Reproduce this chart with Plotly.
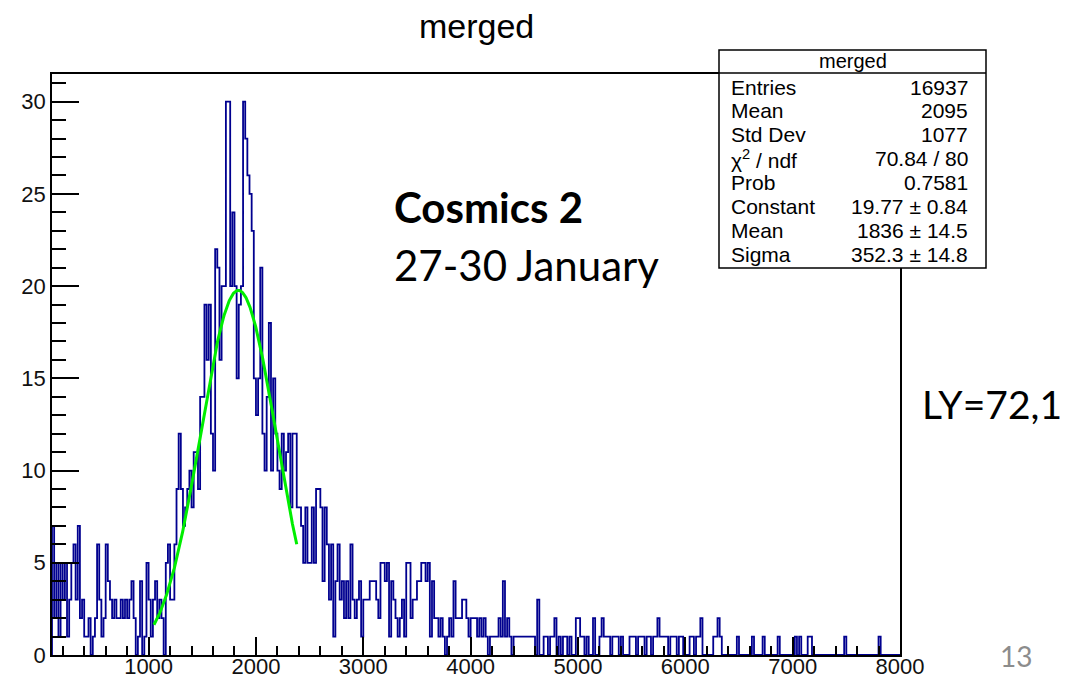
import numpy as np
import plotly.graph_objects as go

# ---------------- data ----------------
BIN_START = 100
BIN_WIDTH = 20

# 100 - 1100
counts_low = [
    7, 2, 5, 1, 5, 3, 5, 1, 3, 5,
    6, 3, 7, 2, 3, 1, 1, 2, 0, 1,
    2, 6, 3, 1, 2, 6, 4, 3, 2, 3,
    2, 2, 3, 2, 3, 2, 3, 4, 2, 0,
    1, 4, 0, 1, 5, 3, 1, 3, 4, 2,
]
# 1100 - 2500
counts_peak = [
    3, 2, 0, 5, 6, 3, 3, 6, 9, 12,
    9, 7, 8, 9, 10, 8, 11, 11, 9, 14,
    14, 19, 16, 19, 12, 10, 22, 21, 16, 20,
    20, 30, 30, 20, 24, 20, 15, 19, 20, 30,
    28, 26, 25, 23, 15, 13, 15, 21, 12, 10,
    14, 18, 10, 15, 12, 10, 9, 12, 10, 11,
    12, 8, 12, 12, 8, 8, 7, 5, 8, 5,
]
# 2500 - 4100
counts_shoulder = [
    5, 8, 5, 9, 9, 8, 4, 8, 6, 3,
    6, 1, 4, 6, 3, 4, 2, 4, 2, 6,
    3, 2, 3, 4, 1, 3, 3, 3, 4, 4,
    4, 3, 2, 5, 5, 4, 5, 1, 4, 3,
    2, 1, 2, 3, 1, 5, 5, 2, 3, 3,
    4, 4, 5, 5, 4, 5, 1, 4, 2, 2,
    1, 2, 1, 0, 1, 2, 1, 4, 2, 2,
    2, 3, 3, 2, 1, 2, 2, 2, 1, 2,
]
# 4100 - 8000
counts_tail = [
    1, 2, 1, 0, 1, 1, 1, 1, 2, 1,
    4, 1, 2, 1, 0, 1, 1, 1, 1, 1,
    1, 1, 1, 1, 1, 0, 3, 0, 0, 1,
    1, 0, 1, 1, 2, 0, 1, 0, 1, 1,
    0, 1, 0, 0, 2, 2, 1, 1, 0, 1,
    0, 0, 2, 0, 0, 1, 2, 1, 1, 1,
    0, 1, 1, 1, 0, 1, 0, 0, 0, 1,
    1, 1, 0, 1, 1, 1, 0, 1, 1, 0,
    1, 1, 2, 1, 1, 1, 1, 0, 1, 1,
    1, 0, 1, 1, 0, 0, 0, 1, 1, 0,
    1, 1, 2, 0, 0, 0, 0, 0, 1, 1,
    2, 1, 0, 0, 0, 0, 0, 0, 0, 1,
    0, 0, 0, 0, 0, 0, 1, 0, 0, 0,
    0, 1, 0, 0, 0, 0, 0, 0, 1, 0,
    0, 0, 0, 0, 0, 0, 1, 0, 1, 0,
    0, 0, 1, 1, 0, 0, 0, 0, 0, 0,
    0, 0, 0, 0, 0, 0, 0, 0, 0, 1,
    0, 0, 0, 0, 0, 0, 0, 0, 0, 0,
    0, 0, 0, 0, 0, 1, 0, 0, 0, 0,
    0, 0, 0, 0, 0,
]

# Gaussian fit parameters (from the stats box) and fit range
FIT_CONSTANT = 19.77
FIT_MEAN = 1836.0
FIT_SIGMA = 352.3
FIT_RANGE = (1050, 2380)

X_RANGE = [100, 8000]
Y_RANGE = [0, 31.5]

stats_title = "merged"
stats_labels = ["Entries", "Mean", "Std Dev", "χ<sup>2</sup> / ndf", "Prob",
                "Constant", "Mean", "Sigma"]
stats_values = ["16937", "2095", "1077", "70.84 / 80", "0.7581",
                "19.77 ± 0.84", "1836 ± 14.5", "352.3 ± 14.8"]

# ---------------- build ----------------
counts = counts_low + counts_peak + counts_shoulder + counts_tail
n = len(counts)
edges = [BIN_START + i * BIN_WIDTH for i in range(n + 1)]
step_x = [edges[0]] + edges + [edges[-1]]
step_y = [0] + counts + [counts[-1], 0]

fx = np.linspace(FIT_RANGE[0], FIT_RANGE[1], 300)
fy = FIT_CONSTANT * np.exp(-0.5 * ((fx - FIT_MEAN) / FIT_SIGMA) ** 2)

W, H = 1069, 680
L, R, T, B = 52, 900, 74, 655
PW, PH = R - L, B - T


def px(x):
    return (x - L) / PW


def py(y):
    return (B - y) / PH


HELV = "Liberation Sans, Arial, Helvetica, sans-serif"
SLIDE = "Lato, Carlito, Calibri, sans-serif"

fig = go.Figure()
fig.add_trace(go.Scatter(
    x=step_x, y=step_y, mode="lines", line_shape="hv",
    line=dict(color="#00008f", width=1.8), hoverinfo="skip"))
fig.add_trace(go.Scatter(
    x=fx, y=fy, mode="lines",
    line=dict(color="#00ee00", width=3), hoverinfo="skip"))

shapes = []
# stats box
bx0, bx1, by0, by1 = 719, 986, 50, 268
shapes.append(dict(type="rect", xref="paper", yref="paper",
                   x0=px(bx0), x1=px(bx1), y0=py(by1), y1=py(by0),
                   fillcolor="white", line=dict(color="black", width=1.5),
                   layer="above"))
shapes.append(dict(type="line", xref="paper", yref="paper",
                   x0=px(bx0), x1=px(bx1), y0=py(73), y1=py(73),
                   line=dict(color="black", width=1.5), layer="above"))

ann = []
ann.append(dict(text="merged", x=px(477), y=py(26), xref="paper", yref="paper",
                showarrow=False, xanchor="center", yanchor="middle",
                font=dict(family=HELV, size=34, color="black")))
ann.append(dict(text=stats_title, x=px((bx0 + bx1) / 2), y=py(61),
                xref="paper", yref="paper", showarrow=False,
                xanchor="center", yanchor="middle",
                font=dict(family=HELV, size=20, color="black")))
row0, dy = 87, 23.9
for i, (lab, val) in enumerate(zip(stats_labels, stats_values)):
    yy = row0 + i * dy
    ann.append(dict(text=lab, x=px(729), y=py(yy), xref="paper", yref="paper",
                    showarrow=False, xanchor="left", yanchor="middle",
                    font=dict(family=HELV, size=21, color="black")))
    ann.append(dict(text=val, x=px(970), y=py(yy), xref="paper", yref="paper",
                    showarrow=False, xanchor="right", yanchor="middle",
                    font=dict(family=HELV, size=21, color="black")))

ann.append(dict(text="<b>Cosmics 2</b>", x=px(392), y=py(207), xref="paper",
                yref="paper", showarrow=False, xanchor="left", yanchor="middle",
                font=dict(family=SLIDE, size=42, color="black")))
ann.append(dict(text="27-30 January", x=px(392), y=py(265), xref="paper",
                yref="paper", showarrow=False, xanchor="left", yanchor="middle",
                font=dict(family=SLIDE, size=42, color="black")))
ann.append(dict(text="LY=72,1", x=px(1064), y=py(404), xref="paper",
                yref="paper", showarrow=False, xanchor="right", yanchor="middle",
                font=dict(family=SLIDE, size=39, color="black")))
ann.append(dict(text="13", x=px(1016), y=py(656), xref="paper",
                yref="paper", showarrow=False, xanchor="center", yanchor="middle",
                font=dict(family=SLIDE, size=28, color="#8c8c8c")))

fig.update_layout(
    width=W, height=H, autosize=False,
    margin=dict(l=L, r=W - R, t=T, b=H - B, pad=0),
    paper_bgcolor="white", plot_bgcolor="white",
    showlegend=False,
    shapes=shapes, annotations=ann,
    xaxis=dict(range=X_RANGE, tick0=0, dtick=1000, ticks="inside",
               ticklen=18, tickwidth=1.5, tickcolor="black", automargin=False,
               ticklabelstandoff=-9,
               showline=True, mirror=True, linecolor="black", linewidth=1.5,
               showgrid=False, zeroline=False,
               tickfont=dict(family=HELV, size=22, color="#111"),
               minor=dict(tick0=0, dtick=200, ticks="inside", ticklen=9,
                          tickwidth=1.5, tickcolor="black", showgrid=False)),
    yaxis=dict(range=Y_RANGE, tick0=0, dtick=5, ticks="inside",
               ticklen=27, tickwidth=1.5, tickcolor="black", automargin=False,
               showline=True, mirror=True, linecolor="black", linewidth=1.5,
               showgrid=False, zeroline=False,
               tickfont=dict(family=HELV, size=22, color="#111"),
               minor=dict(tick0=0, dtick=1, ticks="inside", ticklen=14,
                          tickwidth=1.5, tickcolor="black", showgrid=False)),
)

fig.write_html("out.html")
